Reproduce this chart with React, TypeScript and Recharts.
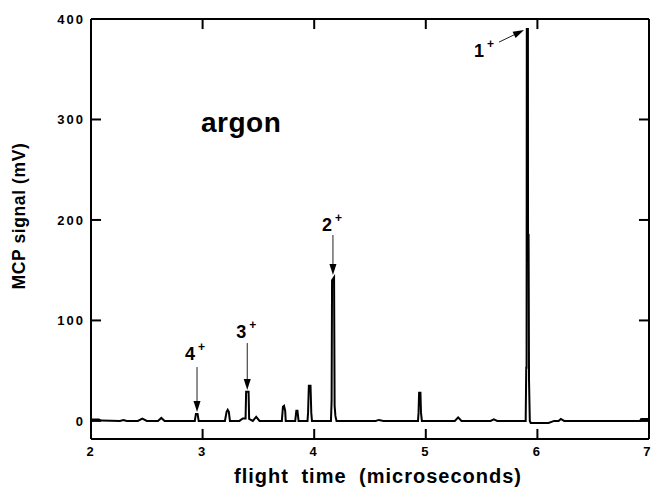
import React from 'react';
import { LineChart, Line, XAxis, YAxis, ReferenceLine, ReferenceDot } from 'recharts';

// time-of-flight trace (microseconds, mV)
const flightTime = [
  2.0, 2.07, 2.09, 2.26, 2.29, 2.32, 2.42, 2.46, 2.5, 2.6, 2.63, 2.66,
  2.93, 2.94, 2.955, 2.965, 3.2, 3.215, 3.225, 3.235, 3.245,
  3.33, 3.36, 3.385, 3.39, 3.412, 3.417, 3.45, 3.48, 3.51,
  3.71, 3.72, 3.73, 3.74, 3.745, 3.83, 3.84, 3.85, 3.86,
  3.94, 3.945, 3.952, 3.967, 3.974, 3.98,
  4.15, 4.156, 4.16, 4.178, 4.183, 4.19, 4.2,
  4.55, 4.58, 4.62, 4.93, 4.935, 4.94, 4.952, 4.957, 4.965,
  5.26, 5.29, 5.32, 5.58, 5.61, 5.64,
  5.895, 5.9, 5.903, 5.905, 5.915, 5.916, 5.921, 5.925, 5.932, 5.94,
  6.1, 6.15, 6.19, 6.21, 6.24, 6.92, 6.93, 7.0,
];
const signal = [
  1.5, 1.5, 0.3, 0, 0.8, 0, 0, 2.2, 0, 0, 3, 0,
  0, 7, 7, 0, 0, 9, 11, 9, 0,
  0, 2.5, 2.5, 29, 29, 2, 0, 4, 0,
  0, 14, 15, 10, 0, 0, 10, 10, 0,
  0, 8, 35, 35, 8, 0,
  0, 20, 140, 143, 15, 5, 0,
  0, 1, 0, 0, 8, 28, 28, 8, 0,
  0, 3.5, 0, 0, 1.5, 0,
  0, 53, 53, 390, 390, 185, 185, 40, 0, -2,
  -2, 0, 0, 2, 0, 0, 2, 2,
];

const xTicks = [2, 3, 4, 5, 6, 7];
const innerXTicks = [3, 4, 5, 6];
const yTicks = [0, 100, 200, 300, 400];
const xDomain = [2, 7];
const yDomain = [-18, 400];

// charge-state annotations: label, arrow tail and tip in data units
const ionLabels = ['4', '3', '2', '1'];
const arrowTail = [[2.95, 53.6], [3.4, 77.5], [4.168, 185], [5.656, 377]];
const arrowTip = [[2.95, 8.9], [3.4, 30.7], [4.168, 145.2], [5.88, 389]];
const labelShift = [[-12, -7], [-11, -5], [-11, -4], [-25, 15]];

const gasName = 'argon';
const gasPos = [2.986, 287.5];

const font = '"Liberation Sans", Arial, Helvetica, sans-serif';

// inward tick length, expressed in each axis' units (~10px)
const xTickLen = 10;
const yTickLen = 0.09;

const chartData = flightTime.map((t, i) => ({ t, v: signal[i] }));

const Arrow = (props: any, i: number) => {
  const { x1, y1, x2, y2 } = props;
  const dx = x2 - x1;
  const dy = y2 - y1;
  const len = Math.sqrt(dx * dx + dy * dy) || 1;
  const ux = dx / len;
  const uy = dy / len;
  const head = 11;
  const half = 3.5;
  const bx = x2 - ux * head;
  const by = y2 - uy * head;
  const [sx, sy] = labelShift[i];
  return (
    <g>
      <line x1={x1} y1={y1} x2={bx} y2={by} stroke="#222" strokeWidth={1} />
      <polygon
        points={`${x2},${y2} ${bx - uy * half},${by + ux * half} ${bx + uy * half},${by - ux * half}`}
        fill="#000"
      />
      <text x={x1 + sx} y={y1 + sy} fontFamily={font} fontWeight="bold" fontSize={18} fill="#000">
        {ionLabels[i]}
        <tspan dx={3} dy={-9} fontSize={12}>+</tspan>
      </text>
    </g>
  );
};

const YTitle = ({ viewBox }: any) => {
  const cx = 25;
  const cy = viewBox.y + viewBox.height / 2 - 13;
  return (
    <text
      x={cx}
      y={cy}
      transform={`rotate(-90, ${cx}, ${cy})`}
      textAnchor="middle"
      fontFamily={font}
      fontWeight="bold"
      fontSize={17.5}
      letterSpacing={0.6}
      fill="#000"
    >
      MCP signal (mV)
    </text>
  );
};

const XTitle = ({ viewBox }: any) => {
  const cx = viewBox.x + viewBox.width / 2 + 8;
  return (
    <text
      x={cx}
      y={483}
      textAnchor="middle"
      fontFamily={font}
      fontWeight="bold"
      fontSize={20}
      letterSpacing={1}
      wordSpacing={6}
      fill="#000"
    >
      flight time (microseconds)
    </text>
  );
};

const tickStyle = { fill: '#000', fontSize: 13, fontWeight: 'bold', fontFamily: font, letterSpacing: 2 };
const axisStroke = { stroke: '#000', strokeWidth: 2 };

export default function App() {
  return (
    <div style={{ position: 'absolute', left: 0, top: 0, background: '#fff' }}>
      <LineChart
        width={652}
        height={490}
        data={chartData}
        margin={{ top: 19, right: 3, bottom: 21, left: 31 }}
      >
        <XAxis
          dataKey="t"
          type="number"
          domain={xDomain}
          ticks={xTicks}
          allowDataOverflow
          height={30}
          tickSize={-10}
          tickMargin={18}
          tick={tickStyle}
          axisLine={axisStroke}
          tickLine={false}
          label={<XTitle />}
        />
        <YAxis
          type="number"
          domain={yDomain}
          ticks={yTicks}
          allowDataOverflow
          width={60}
          tickSize={-10}
          tickMargin={16}
          tick={tickStyle}
          axisLine={axisStroke}
          tickLine={false}
          label={<YTitle />}
        />

        {/* frame: top and right edges */}
        <ReferenceLine y={yDomain[1]} stroke="#000" strokeWidth={2} />
        <ReferenceLine x={xDomain[1]} stroke="#000" strokeWidth={2} />

        {/* inward ticks on all four sides */}
        {innerXTicks.map((t) => (
          <ReferenceLine
            key={`xb${t}`}
            segment={[{ x: t, y: yDomain[0] }, { x: t, y: yDomain[0] + xTickLen }]}
            stroke="#000"
            strokeWidth={2}
          />
        ))}
        {innerXTicks.map((t) => (
          <ReferenceLine
            key={`xt${t}`}
            segment={[{ x: t, y: yDomain[1] }, { x: t, y: yDomain[1] - xTickLen }]}
            stroke="#000"
            strokeWidth={2}
          />
        ))}
        {yTicks.map((v) => (
          <ReferenceLine
            key={`yl${v}`}
            segment={[{ x: xDomain[0], y: v }, { x: xDomain[0] + yTickLen, y: v }]}
            stroke="#000"
            strokeWidth={2}
          />
        ))}
        {yTicks.map((v) => (
          <ReferenceLine
            key={`yr${v}`}
            segment={[{ x: xDomain[1], y: v }, { x: xDomain[1] - yTickLen, y: v }]}
            stroke="#000"
            strokeWidth={2}
          />
        ))}

        <Line
          type="linear"
          dataKey="v"
          stroke="#000"
          strokeWidth={2}
          dot={false}
          activeDot={false}
          isAnimationActive={false}
        />
        {ionLabels.map((lab, i) => (
          <ReferenceLine
            key={lab}
            segment={[
              { x: arrowTail[i][0], y: arrowTail[i][1] },
              { x: arrowTip[i][0], y: arrowTip[i][1] },
            ]}
            shape={(p: any) => Arrow(p, i)}
          />
        ))}
        <ReferenceDot
          x={gasPos[0]}
          y={gasPos[1]}
          r={0}
          shape={(p: any) => (
            <text x={p.cx} y={p.cy} fontFamily={font} fontWeight="bold" fontSize={28} letterSpacing={0.5} fill="#000">
              {gasName}
            </text>
          )}
        />
      </LineChart>
    </div>
  );
}
